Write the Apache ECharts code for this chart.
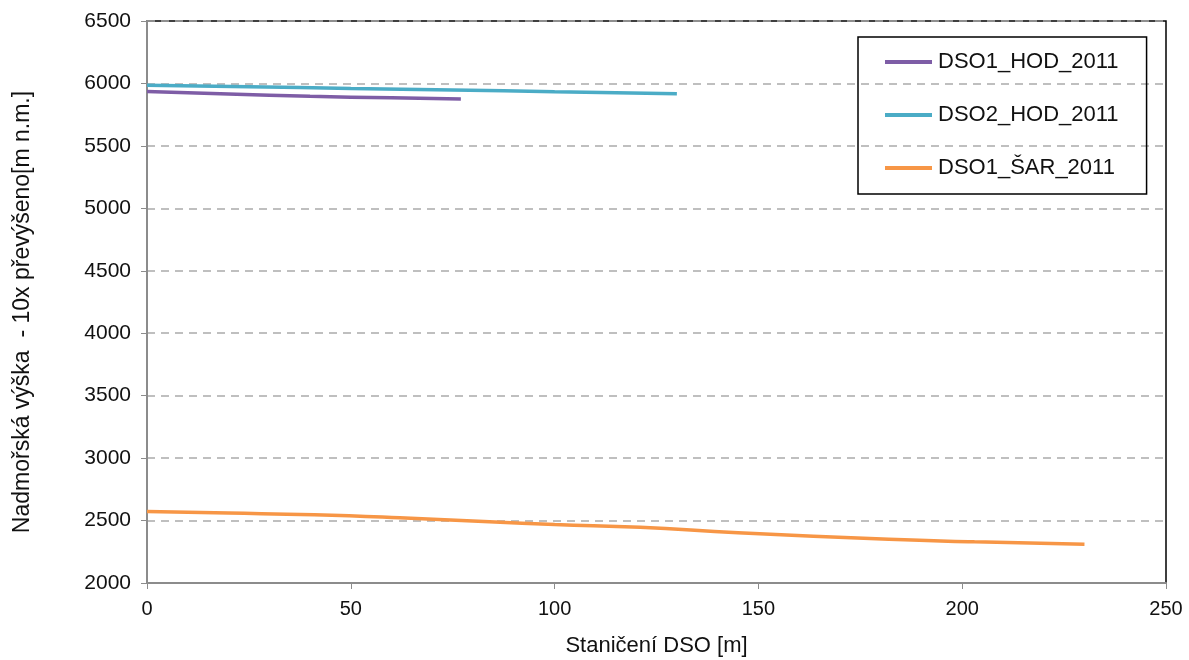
<!DOCTYPE html>
<html><head><meta charset="utf-8">
<script src="https://cdn.jsdelivr.net/npm/echarts@6/dist/echarts.min.js"></script>
<style>html,body{margin:0;padding:0;background:#fff}#c{width:1189px;height:660px}</style>
</head><body><div id="c"></div>
<script>
const seriesNames = ['DSO1_HOD_2011', 'DSO2_HOD_2011', 'DSO1_ŠAR_2011'];
const dso1HodX = [0, 20, 40, 60, 77];
const dso1HodY = [5935, 5915, 5897, 5885, 5875];
const dso2HodX = [0, 25, 50, 75, 100, 130];
const dso2HodY = [5985, 5974, 5960, 5948, 5934, 5918];
const dso1SarX = [0, 20, 41, 62, 84, 100, 121, 145, 182, 203, 230];
const dso1SarY = [2572, 2560, 2546, 2522, 2490, 2468, 2446, 2402, 2350, 2330, 2310];
const yTicks = [2000, 2500, 3000, 3500, 4000, 4500, 5000, 5500, 6000, 6500];
const xTicks = [0, 50, 100, 150, 200, 250];
const colors = ['#7E5DA6', '#4BACC6', '#F79646'];

const zip = (xs, ys) => xs.map((x, i) => [x, ys[i]]);
const font = 'Liberation Sans, Arial, sans-serif';
const chart = echarts.init(document.getElementById('c'), null, {renderer: 'canvas'});
chart.setOption({
  animation: false,
  backgroundColor: '#fff',
  grid: {left: 147, right: 23, top: 21, bottom: 77, show: true, borderColor: '#000', borderWidth: 1.5, outerBoundsMode: 'none', containLabel: false},
  xAxis: {
    type: 'value', min: xTicks[0], max: xTicks[xTicks.length - 1], interval: 50,
    name: 'Staničení DSO [m]', nameLocation: 'middle', nameGap: 52,
    nameTextStyle: {fontFamily: font, fontSize: 22, color: '#111'},
    axisLine: {show: true, lineStyle: {color: '#8c8c8c', width: 2}},
    axisTick: {show: true, length: 6, lineStyle: {color: '#8c8c8c'}},
    axisLabel: {fontFamily: font, fontSize: 20, color: '#111', margin: 16, formatter: v => String(v)},
    splitLine: {show: false}
  },
  yAxis: {
    type: 'value', min: yTicks[0], max: yTicks[yTicks.length - 1], interval: 500,
    name: 'Nadmořská výška  - 10x převýšeno[m n.m.]', nameLocation: 'middle', nameGap: 113,
    nameRotate: 90,
    nameTextStyle: {fontFamily: font, fontSize: 23, color: '#111', padding: [0, 20, 0, 0]},
    axisLine: {show: true, lineStyle: {color: '#8c8c8c', width: 2}},
    axisTick: {show: true, length: 6, lineStyle: {color: '#8c8c8c'}},
    axisLabel: {fontFamily: font, fontSize: 21, color: '#111', margin: 16, formatter: v => String(v)},
    splitLine: {show: true, lineStyle: {color: '#aaaaaa', type: [8, 6], width: 1.5}}
  },
  legend: {
    orient: 'vertical', left: 858, top: 37,
    padding: [14, 28, 15, 27],
    borderColor: '#000', borderWidth: 1.5,
    itemWidth: 47, itemHeight: 4, itemGap: 31, icon: 'rect',
    textStyle: {fontFamily: font, fontSize: 22, color: '#111', padding: [0, 0, 0, 1]},
    data: seriesNames
  },
  series: [
    {name: seriesNames[0], type: 'line', data: zip(dso1HodX, dso1HodY), smooth: true, symbol: 'none', lineStyle: {color: colors[0], width: 3.5}, itemStyle: {color: colors[0]}},
    {name: seriesNames[1], type: 'line', data: zip(dso2HodX, dso2HodY), smooth: true, symbol: 'none', lineStyle: {color: colors[1], width: 3.5}, itemStyle: {color: colors[1]}},
    {name: seriesNames[2], type: 'line', data: zip(dso1SarX, dso1SarY), smooth: true, symbol: 'none', lineStyle: {color: colors[2], width: 3.5}, itemStyle: {color: colors[2]}}
  ]
});
</script></body></html>
